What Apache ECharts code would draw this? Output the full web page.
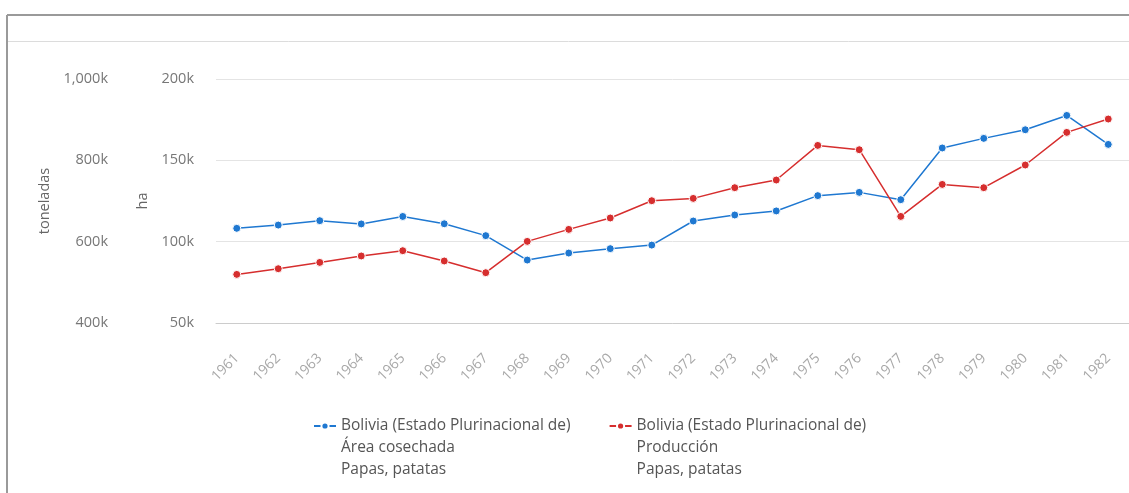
<!DOCTYPE html>
<html>
<head>
<meta charset="utf-8">
<script src="https://cdn.jsdelivr.net/npm/echarts@6/dist/echarts.min.js"></script>
<style>
  html, body { margin: 0; padding: 0; background: #fff; }
  #chart { width: 1129px; height: 493px; }
</style>
</head>
<body>
<div id="chart"></div>
<script>
var years = ['1961', '1962', '1963', '1964', '1965', '1966', '1967', '1968', '1969', '1970', '1971',
    '1972', '1973', '1974', '1975', '1976', '1977', '1978', '1979', '1980', '1981', '1982'];

// Área cosechada (ha)
var areaHa = [108200, 110200, 112900, 110900, 115500, 111000, 103700, 88700, 93000, 95700, 97900,
    112700, 116400, 118900, 128300, 130300, 125800, 157600, 163500, 168800, 177600, 159800];

// Producción (toneladas)
var produccionT = [519500, 533500, 549000, 564800, 577800, 552500, 523700, 600700, 630200, 658200, 700700,
    706400, 732700, 751600, 836700, 826100, 662100, 740800, 732700, 788500, 868700, 901600];

var haTicks = { min: 50000, max: 200000, interval: 50000 };
var tonTicks = { min: 400000, max: 1000000, interval: 200000 };

var nameArea = 'Bolivia (Estado Plurinacional de)\nÁrea cosechada\nPapas, patatas';
var nameProd = 'Bolivia (Estado Plurinacional de)\nProducción\nPapas, patatas';

var kFormat = function (v) {
    return (v / 1000).toLocaleString('en-US') + 'k';
};

var chart = echarts.init(document.getElementById('chart'));
var font = '"Open Sans", "Noto Sans", sans-serif';

var option = {
    animation: false,
    textStyle: { fontFamily: font },
    graphic: [
        { type: 'line', shape: { x1: 7, y1: 15, x2: 7, y2: 493 }, style: { stroke: '#9a9a9a', lineWidth: 2 } },
        { type: 'line', shape: { x1: 7, y1: 15, x2: 1129, y2: 15 }, style: { stroke: '#9a9a9a', lineWidth: 2 } },
        { type: 'line', shape: { x1: 8, y1: 41.5, x2: 1129, y2: 41.5 }, style: { stroke: '#dcdcdc', lineWidth: 1 } }
    ],
    grid: { left: 216, right: -14, top: 79, bottom: 170 },
    legend: {
        left: 308,
        top: 366,
        itemGap: 38,
        itemWidth: 22,
        itemHeight: 9,
        // two blank lines first, so the icon sits on the first line of the name
        formatter: function (name) {
            return '\n\n' + name;
        },
        textStyle: {
            fontFamily: font,
            fontSize: 15.5,
            color: '#555',
            lineHeight: 22
        },
        data: [nameArea, nameProd]
    },
    xAxis: {
        type: 'category',
        data: years,
        boundaryGap: true,
        axisLine: { lineStyle: { color: '#cccccc' } },
        axisTick: { length: 8, lineStyle: { color: '#cccccc' } },
        axisLabel: { rotate: 45, interval: 0, color: '#a8a8a8', fontSize: 14, margin: 33, fontFamily: font }
    },
    yAxis: [
        {
            type: 'value',
            name: 'ha',
            nameLocation: 'middle',
            nameGap: 64,
            nameTextStyle: { color: '#666', fontSize: 14.5, fontFamily: font },
            position: 'left',
            min: haTicks.min,
            max: haTicks.max,
            interval: haTicks.interval,
            axisLine: { show: false },
            axisTick: { show: false },
            axisLabel: { formatter: kFormat, color: '#777', fontSize: 14.5, margin: 22, padding: [5, 0, 0, 0], fontFamily: font },
            splitLine: { lineStyle: { color: '#e4e4e4' } }
        },
        {
            type: 'value',
            name: 'toneladas',
            nameLocation: 'middle',
            nameGap: 77,
            nameTextStyle: { color: '#666', fontSize: 14.5, fontFamily: font },
            position: 'left',
            offset: 86,
            min: tonTicks.min,
            max: tonTicks.max,
            interval: tonTicks.interval,
            axisLine: { show: false },
            axisTick: { show: false },
            axisLabel: { formatter: kFormat, color: '#777', fontSize: 14.5, margin: 22, padding: [5, 0, 0, 0], fontFamily: font },
            splitLine: { show: false }
        }
    ],
    series: [
        {
            name: nameArea,
            type: 'line',
            yAxisIndex: 0,
            data: areaHa,
            symbol: 'circle',
            symbolSize: 8,
            color: '#1f78d1',
            lineStyle: { width: 1.5 },
            itemStyle: { borderColor: '#fff', borderWidth: 1 }
        },
        {
            name: nameProd,
            type: 'line',
            yAxisIndex: 1,
            data: produccionT,
            symbol: 'circle',
            symbolSize: 8,
            color: '#d62e2e',
            lineStyle: { width: 1.5 },
            itemStyle: { borderColor: '#fff', borderWidth: 1 }
        }
    ]
};

chart.setOption(option);
</script>
</body>
</html>
